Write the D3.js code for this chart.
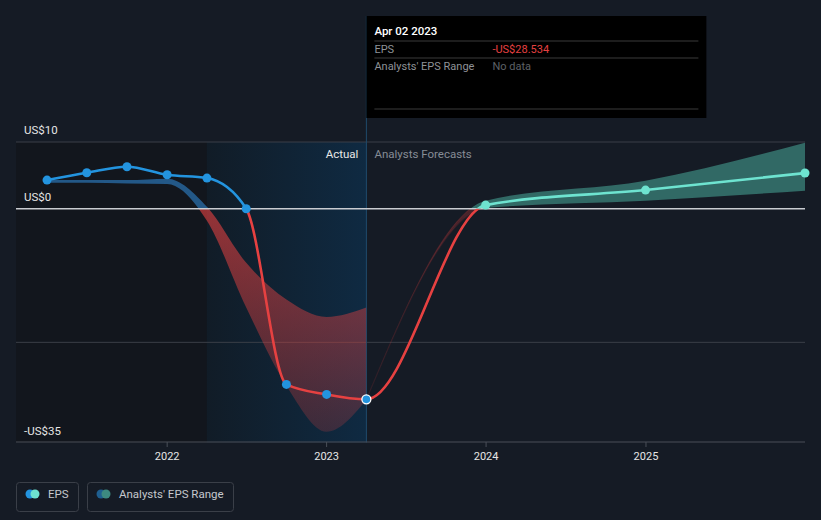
<!DOCTYPE html>
<html><head><meta charset="utf-8">
<script src="https://cdn.jsdelivr.net/npm/d3@7"></script>
<style>
html,body{margin:0;padding:0;background:#151b25;}
svg{display:block;font-family:Roboto,"Noto Sans",sans-serif;}
</style></head>
<body><svg id="c" width="821" height="520"></svg>
<script>
// ---- data ----
const epsDates = ["2021-04-01","2021-07-01","2021-10-01","2022-01-01","2022-04-02","2022-07-01","2022-10-01","2023-01-01","2023-04-02"];
const epsValues = [4.3, 5.4, 6.3, 5.1, 4.6, 0.0, -26.3, -27.8, -28.534];
const rangeDates = ["2021-04-01","2021-07-01","2021-10-01","2022-01-01","2022-04-02","2022-07-01","2022-10-01","2023-01-01","2023-04-02"];
const rangeLow  = [3.9, 3.9, 3.8, 3.7, -1.8, -14.8, -26.5, -33.4, -28.6];
const rangeHigh = [4.3, 4.3, 4.3, 4.5, 0.3, -8.1, -13.6, -16.2, -14.8];
const fcDates = ["2023-04-02","2023-12-31","2024-12-31","2025-12-31"];
const fcValues = [-28.534, 0.55, 2.8, 5.35];
const fcLow  = [-28.534, 0.1, 1.2, 2.7];
const fcHigh = [-28.534, 1.2, 4.2, 9.9];
const yTicks = [10, 0, -35];
const yTickLabels = ["US$10", "US$0", "-US$35"];
const xTicks = ["2022-01-01","2023-01-01","2024-01-01","2025-01-01"];
const xTickLabels = ["2022","2023","2024","2025"];
const tipDate = "Apr 02 2023";
const tipEps = "-US$28.534";

const P = d3.timeParse("%Y-%m-%d");
const svg = d3.select("#c");
const L = 16, R = 805, T = 142, B = 442.5;
const x = d3.scaleTime().domain([P("2021-01-20"), P("2025-12-31")]).range([L, R]);
const y = d3.scaleLinear().domain([-35, 10]).range([B, T]);
const y0 = y(0);
const nowX = x(P("2023-04-02"));
const yearAgoX = x(P("2022-04-02"));

const defs = svg.append("defs");
function clip(id, x0, y0_, w, h){ defs.append("clipPath").attr("id", id).append("rect").attr("x", x0).attr("y", y0_).attr("width", w).attr("height", h); }
clip("pastAbove", 0, 0, nowX, y0);
clip("pastBelow", 0, y0, nowX, 520);
clip("futAbove", nowX, 0, 821, y0);
clip("futBelow", nowX, y0, 821, 520);

const hl = defs.append("linearGradient").attr("id","hl").attr("x1",0).attr("x2",1).attr("y1",0).attr("y2",0);
hl.append("stop").attr("offset",0).attr("stop-color","#111c27");
hl.append("stop").attr("offset",1).attr("stop-color","#0f2a42");
const rg = defs.append("linearGradient").attr("id","redg").attr("gradientUnits","userSpaceOnUse")
  .attr("x1",0).attr("x2",0).attr("y1", y0).attr("y2", B);
rg.append("stop").attr("offset",0).attr("stop-color","#e64141").attr("stop-opacity",0.62);
rg.append("stop").attr("offset",1).attr("stop-color","#e64141").attr("stop-opacity",0.18);

// backgrounds
svg.append("rect").attr("x", L).attr("y", T).attr("width", yearAgoX - L).attr("height", B - T).attr("fill", "#12161d");
svg.append("rect").attr("x", yearAgoX).attr("y", T).attr("width", nowX - yearAgoX).attr("height", B - T).attr("fill", "url(#hl)");

// gridlines
[10, -20].forEach(v => svg.append("line").attr("x1", L).attr("x2", R).attr("y1", y(v)).attr("y2", y(v)).attr("stroke", "#3a3f48").attr("stroke-width", 1));

// now line
svg.append("line").attr("x1", nowX).attr("x2", nowX).attr("y1", 16).attr("y2", B).attr("stroke", "#1f4a6c").attr("stroke-width", 1);

svg.append("text").attr("x", nowX - 8).attr("y", 158).attr("text-anchor","end").attr("fill","#e8e8e8").attr("font-size",11.5).text("Actual");
svg.append("text").attr("x", nowX + 8).attr("y", 158).attr("fill","#868c95").attr("font-size",11.5).text("Analysts Forecasts");

const curve = d3.curveMonotoneX;
const rangeData = rangeDates.map((d,i)=>({d:P(d), lo:rangeLow[i], hi:rangeHigh[i]}));
const area = d3.area().x(d=>x(d.d)).y0(d=>y(d.lo)).y1(d=>y(d.hi)).curve(curve);
svg.append("path").datum(rangeData).attr("d", area).attr("fill", "#2a72b0").attr("fill-opacity", 0.72).attr("clip-path","url(#pastAbove)");
svg.append("path").datum(rangeData).attr("d", area).attr("fill", "url(#redg)").attr("clip-path","url(#pastBelow)");

const fcRange = fcDates.map((d,i)=>({d:P(d), lo:fcLow[i], hi:fcHigh[i]}));
svg.append("path").datum(fcRange).attr("d", area).attr("fill", "#3d8a80").attr("fill-opacity", 0.7).attr("clip-path","url(#futAbove)");
svg.append("path").datum(fcRange).attr("d", area).attr("fill", "#e64141").attr("fill-opacity", 0.25).attr("stroke","#e64141").attr("stroke-opacity",0.12).attr("stroke-width",1.2).attr("clip-path","url(#futBelow)");

svg.append("line").attr("x1", L).attr("x2", R).attr("y1", y0).attr("y2", y0).attr("stroke", "#c9ccd1").attr("stroke-width", 1.5);

const eps = epsDates.map((d,i)=>({d:P(d), v:epsValues[i]}));
const fc = fcDates.map((d,i)=>({d:P(d), v:fcValues[i]}));
const all = eps.concat(fc.slice(1));
const line = d3.line().x(d=>x(d.d)).y(d=>y(d.v)).curve(curve);
const lineParts = [["pastAbove","#2394df"],["pastBelow","#e64141"],["futAbove","#6ee3d0"],["futBelow","#e64141"]];
lineParts.forEach(([c,col]) => svg.append("path").datum(all).attr("d", line).attr("fill","none").attr("stroke", col).attr("stroke-width", 2.6).attr("clip-path", `url(#${c})`));

svg.selectAll(".ep").data(eps).enter().append("circle").attr("cx", d=>x(d.d)).attr("cy", d=>y(d.v)).attr("r", 4.5)
  .attr("fill", "#2394df").attr("stroke", (d,i)=> i===eps.length-1 ? "#ffffff" : "none").attr("stroke-width", 1.3);
svg.selectAll(".fp").data(fc.slice(1)).enter().append("circle").attr("cx", d=>x(d.d)).attr("cy", d=>y(d.v)).attr("r", 4.5).attr("fill", "#6ee3d0");

yTicks.forEach((v,i)=> svg.append("text").attr("x", 24).attr("y", y(v) - 8).attr("fill","#e6e6e6").attr("font-size",11.5).text(yTickLabels[i]));

svg.append("line").attr("x1", L).attr("x2", R).attr("y1", 442).attr("y2", 442).attr("stroke", "#4a4f58").attr("stroke-width", 1);
xTicks.forEach((t,i)=>{
  const xx = x(P(t));
  svg.append("line").attr("x1", xx).attr("x2", xx).attr("y1", 442).attr("y2", 447).attr("stroke","#4a4f58");
  svg.append("text").attr("x", xx).attr("y", 460).attr("text-anchor","middle").attr("fill","#e6e6e6").attr("font-size",11).text(xTickLabels[i]);
});

const tip = svg.append("g");
tip.append("rect").attr("x", nowX).attr("y", 16).attr("width", 340).attr("height", 102).attr("fill", "#000000");
tip.append("text").attr("x", nowX + 8).attr("y", 35).attr("fill","#ffffff").attr("font-size",11.5).attr("font-weight",500).text(tipDate);
[41, 58, 109].forEach(yy => tip.append("line").attr("x1", nowX + 8).attr("x2", nowX + 332).attr("y1", yy).attr("y2", yy).attr("stroke","#3b3b3b"));
tip.append("text").attr("x", nowX + 8).attr("y", 53).attr("fill","#8e9297").attr("font-size",11).text("EPS");
tip.append("text").attr("x", nowX + 126).attr("y", 53).attr("fill","#e64141").attr("font-size",11).text(tipEps);
tip.append("text").attr("x", nowX + 8).attr("y", 70).attr("fill","#8e9297").attr("font-size",11).text("Analysts' EPS Range");
tip.append("text").attr("x", nowX + 126).attr("y", 70).attr("fill","#5d6166").attr("font-size",11).text("No data");

const legend = [
  {label:"EPS", c1:"#2394df", c2:"#6ee3d0", x:16, w:62},
  {label:"Analysts' EPS Range", c1:"#1f5f90", c2:"#3d8a80", x:87, w:146}
];
legend.forEach(l => {
  const g = svg.append("g");
  g.append("rect").attr("x", l.x + 0.5).attr("y", 482.5).attr("width", l.w).attr("height", 29).attr("rx", 3).attr("fill","none").attr("stroke","#3a3f48");
  g.append("circle").attr("cx", l.x + 14).attr("cy", 494).attr("r", 4.5).attr("fill", l.c1);
  g.append("circle").attr("cx", l.x + 19).attr("cy", 494).attr("r", 4.5).attr("fill", l.c2);
  g.append("text").attr("x", l.x + 32).attr("y", 498).attr("fill","#c5c8cd").attr("font-size",11.5).text(l.label);
});
</script></body></html>
